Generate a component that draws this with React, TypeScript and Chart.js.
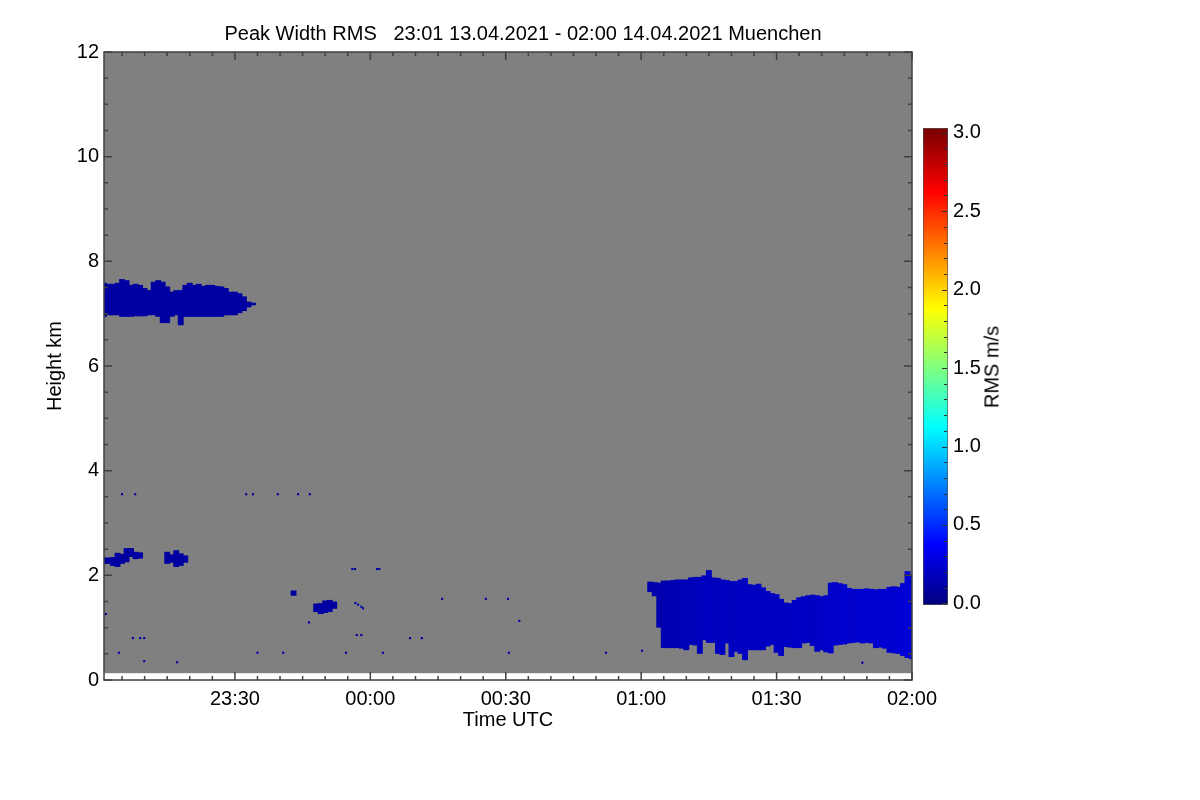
import { useEffect, useRef } from 'react';
import { Chart, registerables } from 'chart.js';

Chart.register(...registerables);

const FONT = { family: '"Liberation Sans", Arial, Helvetica, sans-serif', size: 20, weight: 'normal' as const };
const TITLE = 'Peak Width RMS   23:01 13.04.2021 - 02:00 14.04.2021 Muenchen';

// time axis is minutes after 23:00 UTC
const timeMin = 1;
const timeMax = 180;
const heightMax = 12;
const echoFloor = 0.13; // lowest range gate (km)
const rmsMin = -0.01;
const rmsMax = 3.03;
const rmsTop = 3; // top of the colour table

// cirrus layer near 7 km, one profile per minute from 23:01
const upperStart = 1;
const upperTops = [
  7.59, 7.57, 7.57, 7.59, 7.66, 7.64, 7.55, 7.57, 7.55, 7.49, 7.45, 7.61, 7.64, 7.61, 7.52, 7.42, 7.45,
  7.45, 7.55, 7.59, 7.55, 7.57, 7.53, 7.55, 7.55, 7.53, 7.52, 7.49, 7.42, 7.42, 7.39, 7.33, 7.23, 7.21,
];
const upperBases = [
  6.94, 6.97, 6.97, 6.97, 6.94, 6.94, 6.94, 6.95, 6.95, 6.95, 6.97, 6.97, 6.94, 6.82, 6.82, 6.94, 6.97,
  6.78, 6.94, 6.94, 6.94, 6.94, 6.94, 6.94, 6.94, 6.94, 6.94, 6.97, 6.97, 6.97, 7.01, 7.05, 7.12, 7.16,
];
const upperRms = 0.1;

// small patches around 2 km and 1.5 km
const patchTimes = [1, 2, 3, 4, 5, 6, 7, 8, 9, 15, 16, 17, 18, 19, 43, 48, 49, 50, 51, 52];
const patchTops = [
  2.34, 2.34, 2.35, 2.43, 2.41, 2.52, 2.52, 2.45, 2.44, 2.45, 2.4, 2.48, 2.42, 2.38, 1.71, 1.46, 1.47,
  1.52, 1.53, 1.5,
];
const patchBases = [
  2.22, 2.22, 2.18, 2.16, 2.22, 2.25, 2.35, 2.31, 2.32, 2.22, 2.24, 2.16, 2.18, 2.24, 1.61, 1.3, 1.26,
  1.28, 1.3, 1.36,
];
const patchRms = 0.1;

// boundary layer cloud from 01:02
const lowStart = 122;
const lowTops = [
  1.88, 1.87, 1.86, 1.9, 1.9, 1.91, 1.92, 1.92, 1.92, 1.96, 1.97, 1.97, 2.0, 2.1, 1.96, 1.95, 1.92, 1.91,
  1.89, 1.89, 1.92, 1.95, 1.83, 1.82, 1.84, 1.77, 1.7, 1.66, 1.64, 1.55, 1.48, 1.47, 1.53, 1.58, 1.6, 1.62,
  1.63, 1.62, 1.6, 1.62, 1.86, 1.87, 1.85, 1.83, 1.76, 1.74, 1.74, 1.74, 1.75, 1.74, 1.73, 1.74, 1.74,
  1.78, 1.79, 1.78, 1.85, 2.08, 2.02,
];
const lowBases = [
  1.68, 1.6, 1.0, 0.61, 0.61, 0.61, 0.61, 0.6, 0.57, 0.67, 0.66, 0.5, 0.76, 0.71, 0.71, 0.5, 0.48, 0.7,
  0.44, 0.54, 0.5, 0.38, 0.57, 0.57, 0.57, 0.57, 0.64, 0.67, 0.52, 0.46, 0.63, 0.62, 0.61, 0.61, 0.7, 0.71,
  0.65, 0.54, 0.57, 0.53, 0.51, 0.66, 0.67, 0.68, 0.7, 0.71, 0.72, 0.7, 0.71, 0.7, 0.61, 0.62, 0.6, 0.52,
  0.51, 0.5, 0.46, 0.42, 0.4,
];
const lowRms = [
  0.13, 0.13, 0.14, 0.14, 0.15, 0.15, 0.15, 0.16, 0.16, 0.17, 0.18, 0.18, 0.19, 0.19, 0.18, 0.18, 0.19,
  0.19, 0.18, 0.19, 0.2, 0.19, 0.19, 0.19, 0.19, 0.19, 0.2, 0.2, 0.2, 0.19, 0.19, 0.2, 0.2, 0.21, 0.21,
  0.2, 0.2, 0.21, 0.21, 0.21, 0.22, 0.22, 0.22, 0.23, 0.23, 0.22, 0.23, 0.23, 0.24, 0.23, 0.23, 0.24,
  0.24, 0.23, 0.24, 0.25, 0.25, 0.26, 0.25,
];

// brighter streaks inside the low cloud
const streakTimes = [132, 135, 137, 141, 143, 162, 164, 167, 170, 172, 175, 176, 178, 179, 180];
const streakTops = [1.92, 2.08, 1.9, 1.6, 1.9, 1.8, 1.75, 1.7, 1.65, 1.7, 1.7, 1.78, 1.85, 2.05, 1.95];
const streakBases = [1.7, 1.55, 1.6, 1.2, 1.4, 1.45, 1.3, 1.45, 1.2, 1.35, 1.25, 1.6, 1.65, 1.7, 1.5];
const streakRms = [0.4, 0.55, 0.42, 0.35, 0.45, 0.4, 0.38, 0.42, 0.36, 0.45, 0.38, 0.5, 0.55, 0.6, 0.45];

// isolated single-gate echoes
const speckTimes = [
  5, 7.9, 32.5, 34, 39.5, 44, 46.6, 1.4, 7.4, 9, 9.9, 4.3, 9.9, 17.2, 35, 40.7, 54.6, 62.8, 90.7, 112.2,
  120.2, 169, 46.4, 57, 58, 56, 56.6, 61.5, 62, 68.8, 71.4, 75.9, 85.6, 90.5, 93, 56.7, 57.3, 58, 58.4,
];
const speckHeights = [
  3.55, 3.55, 3.55, 3.55, 3.55, 3.55, 3.55, 1.26, 0.8, 0.8, 0.8, 0.52, 0.36, 0.34, 0.52, 0.52, 0.52, 0.52,
  0.52, 0.52, 0.56, 0.33, 1.1, 0.86, 0.86, 2.12, 2.12, 2.12, 2.12, 0.8, 0.8, 1.55, 1.55, 1.55, 1.13, 1.47,
  1.44, 1.4, 1.37,
];
const speckRms = 0.1;

const jetStops = [0, 0.125, 0.375, 0.625, 0.875, 1];

function jet(v: number) {
  const n = Math.min(Math.max(v / rmsTop, 0), 1);
  const c = (x: number) => Math.round(255 * Math.min(Math.max(1.5 - Math.abs(x), 0), 1));
  return `rgb(${c(4 * n - 3)},${c(4 * n - 2)},${c(4 * n - 1)})`;
}

function clock(min: number) {
  const m = (23 * 60 + min) % 1440;
  return `${String(Math.floor(m / 60)).padStart(2, '0')}:${String(m % 60).padStart(2, '0')}`;
}

const isHalf = (v: number) => Math.abs(v * 2 - Math.round(v * 2)) < 1e-6;

// bars slightly wider than one minute so neighbouring profiles overlap without seams
const barStyle = { type: 'bar' as const, grouped: false, barPercentage: 1.3, categoryPercentage: 1, borderWidth: 0 };

const plotFrame = {
  id: 'plotFrame',
  beforeDatasetsDraw(chart: any) {
    const { ctx, chartArea, scales } = chart;
    const top = scales.y.getPixelForValue(heightMax);
    const bottom = scales.y.getPixelForValue(echoFloor);
    ctx.save();
    ctx.fillStyle = '#808080';
    ctx.fillRect(chartArea.left, top, chartArea.right - chartArea.left, bottom - top);
    ctx.restore();
  },
  afterDatasetsDraw(chart: any) {
    const { ctx, chartArea: a, scales } = chart;
    ctx.save();
    ctx.strokeStyle = '#404040';
    ctx.lineWidth = 1.5;
    ctx.beginPath();
    scales.x.ticks.forEach(({ value }: any) => {
      if (value % 5 !== 0) return;
      const px = scales.x.getPixelForValue(value);
      const len = value % 30 === 0 ? 8 : 4;
      ctx.moveTo(px, a.bottom);
      ctx.lineTo(px, a.bottom - len);
      ctx.moveTo(px, a.top);
      ctx.lineTo(px, a.top + len);
    });
    scales.y.ticks.forEach(({ value }: any) => {
      const py = scales.y.getPixelForValue(value);
      const len = value % 2 === 0 ? 8 : 4;
      ctx.moveTo(a.left, py);
      ctx.lineTo(a.left + len, py);
      ctx.moveTo(a.right, py);
      ctx.lineTo(a.right - len, py);
    });
    ctx.stroke();
    ctx.strokeRect(a.left, a.top, a.right - a.left, a.bottom - a.top);
    ctx.restore();
  },
};

const barTicks = {
  id: 'barTicks',
  afterDatasetsDraw(chart: any) {
    const { ctx, chartArea: a, scales } = chart;
    ctx.save();
    ctx.strokeStyle = '#303030';
    ctx.lineWidth = 1;
    ctx.beginPath();
    scales.y.ticks.forEach(({ value }: any) => {
      if (value < 0 || value > rmsTop) return;
      const py = Math.round(scales.y.getPixelForValue(value)) + 0.5;
      const len = isHalf(value) ? 5 : 3;
      ctx.moveTo(a.right - 1, py);
      ctx.lineTo(a.right - 1 - len, py);
    });
    ctx.stroke();
    ctx.restore();
  },
};

function MainPlot() {
  const canvasRef = useRef<HTMLCanvasElement>(null);

  useEffect(() => {
    if (!canvasRef.current) return;
    const chart = new Chart(canvasRef.current, {
      type: 'bar',
      data: {
        datasets: [
          {
            ...barStyle,
            label: 'cirrus',
            data: upperTops.map((top, i) => ({ x: upperStart + i, y: [upperBases[i], top] })),
            backgroundColor: jet(upperRms),
          },
          {
            ...barStyle,
            label: 'patches',
            data: patchTimes.map((t, i) => ({ x: t, y: [patchBases[i], patchTops[i]] })),
            backgroundColor: jet(patchRms),
          },
          {
            ...barStyle,
            label: 'low cloud',
            data: lowTops.map((top, i) => ({ x: lowStart + i, y: [lowBases[i], top] })),
            backgroundColor: lowRms.map(jet),
          },
          {
            ...barStyle,
            label: 'streaks',
            barPercentage: 0.6,
            data: streakTimes.map((t, i) => ({ x: t, y: [streakBases[i], streakTops[i]] })),
            backgroundColor: streakRms.map(jet),
          },
          {
            type: 'scatter',
            label: 'specks',
            data: speckTimes.map((t, i) => ({ x: t, y: speckHeights[i] })),
            pointStyle: 'rect',
            pointRadius: 1.5,
            borderWidth: 0,
            backgroundColor: jet(speckRms),
          },
        ] as any,
      },
      options: {
        animation: false,
        responsive: false,
        events: [],
        layout: { padding: { left: 0, right: 154, top: 0, bottom: 0 } },
        plugins: {
          legend: { display: false },
          tooltip: { enabled: false },
          title: {
            display: true,
            text: TITLE,
            color: '#000',
            font: FONT,
            padding: { top: 22, bottom: 6 },
          },
        },
        scales: {
          x: {
            type: 'linear',
            min: timeMin,
            max: timeMax,
            offset: false,
            grid: { display: false, drawTicks: false },
            border: { display: false },
            ticks: {
              stepSize: 5,
              includeBounds: false,
              autoSkip: false,
              maxRotation: 0,
              minRotation: 0,
              padding: 7,
              color: '#000',
              font: FONT,
              callback: (v: any) => (v % 30 === 0 ? clock(v) : ''),
            },
            title: { display: true, text: 'Time UTC', color: '#000', font: FONT, padding: { top: 0, bottom: 68 } },
            afterFit: (s: any) => {
              s.height = 120;
            },
          },
          y: {
            type: 'linear',
            min: 0,
            max: heightMax,
            grid: { display: false, drawTicks: false },
            border: { display: false },
            ticks: {
              stepSize: 0.5,
              autoSkip: false,
              padding: 5,
              color: '#000',
              font: FONT,
              callback: (v: any) => (v % 2 === 0 ? String(v) : ''),
            },
            title: { display: true, text: 'Height km', color: '#000', font: FONT, padding: { top: 43, bottom: 0 } },
            afterFit: (s: any) => {
              s.width = 104;
            },
          },
          pad: {
            type: 'linear',
            position: 'right',
            ticks: { display: false },
            grid: { display: false, drawTicks: false },
            border: { display: false },
            afterFit: (s: any) => {
              s.width = 134;
            },
          },
        },
      } as any,
      plugins: [plotFrame],
    });
    return () => chart.destroy();
  }, []);

  return <canvas ref={canvasRef} width={1200} height={800} style={{ position: 'absolute', left: 0, top: 0 }} />;
}

function ColorBar() {
  const canvasRef = useRef<HTMLCanvasElement>(null);

  useEffect(() => {
    if (!canvasRef.current) return;
    const chart = new Chart(canvasRef.current, {
      type: 'bar',
      data: {
        labels: ['RMS'],
        datasets: [
          {
            data: [[rmsMin, rmsMax]],
            barPercentage: 1,
            categoryPercentage: 1,
            borderWidth: 1,
            borderColor: '#505050',
            borderSkipped: false,
            backgroundColor: (c: any) => {
              const { chart: ch } = c;
              if (!ch.chartArea) return jet(0);
              const ys = ch.scales.y;
              const g = ch.ctx.createLinearGradient(0, ys.getPixelForValue(0), 0, ys.getPixelForValue(rmsTop));
              jetStops.forEach((s) => g.addColorStop(s, jet(s * rmsTop)));
              return g;
            },
          },
        ] as any,
      },
      options: {
        animation: false,
        responsive: false,
        events: [],
        layout: { padding: { left: 23, right: 0, top: 28, bottom: 35 } },
        plugins: { legend: { display: false }, tooltip: { enabled: false } },
        scales: {
          x: { display: false },
          y: {
            position: 'right',
            min: rmsMin,
            max: rmsMax,
            grid: { display: false, drawTicks: false },
            border: { display: false },
            ticks: {
              stepSize: 0.1,
              includeBounds: false,
              autoSkip: false,
              padding: 5,
              color: '#000',
              font: FONT,
              callback: (v: any) => (v >= 0 && isHalf(v) ? Number(v).toFixed(1) : ''),
            },
            afterFit: (s: any) => {
              s.width = 102;
            },
          },
        },
      } as any,
      plugins: [barTicks],
    });
    return () => chart.destroy();
  }, []);

  return <canvas ref={canvasRef} width={150} height={540} style={{ position: 'absolute', left: 900, top: 100 }} />;
}

export default function App() {
  return (
    <div style={{ position: 'absolute', left: 0, top: 0, width: 1200, height: 800, background: '#fff', overflow: 'hidden' }}>
      <MainPlot />
      <ColorBar />
      <div
        style={{
          position: 'absolute',
          left: 992,
          top: 367,
          transform: 'translate(-50%, -50%) rotate(-90deg)',
          whiteSpace: 'nowrap',
          fontFamily: FONT.family,
          fontSize: 20,
          color: '#000',
        }}
      >
        RMS m/s
      </div>
    </div>
  );
}
